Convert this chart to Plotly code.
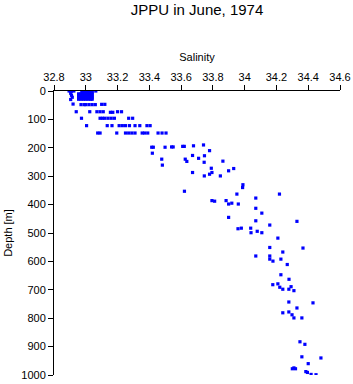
import plotly.graph_objects as go

salinity = [
    # dense surface cluster
    32.98, 33.00, 33.02, 33.04,
    32.975, 32.99, 33.005, 33.02, 33.035, 33.04,
    32.955, 32.97, 32.985, 33.0, 33.015, 33.03, 33.04,
    32.955, 32.97, 32.985, 33.0, 33.015, 33.03, 33.04,
    32.955, 32.97, 32.985, 33.0, 33.015, 33.03, 33.04,
    32.955, 32.97, 32.985, 33.0, 33.015, 33.03, 33.04,
    32.955, 32.97, 32.985, 33.0, 33.015, 33.03, 33.04,
    32.895, 32.91, 32.925, 32.905, 32.91, 32.915, 32.905, 33.063,
    32.92, 32.97, 32.99, 33.0, 33.02, 33.04, 33.06, 33.10, 33.12,
    32.94, 33.025, 33.07, 33.09, 33.11, 33.155, 33.17, 33.20, 33.225,
    32.973, 33.09, 33.105, 33.12, 33.14, 33.16, 33.18, 33.27, 33.295,
    33.005, 33.135, 33.165, 33.21, 33.23, 33.25, 33.275, 33.31, 33.34, 33.385, 33.405,
    33.075, 33.09, 33.195, 33.25, 33.27, 33.29, 33.31, 33.355, 33.37, 33.39, 33.455, 33.48, 33.505,
    # 200 - 400 m
    33.415, 33.425, 33.499, 33.54, 33.55, 33.61, 33.62, 33.678, 33.741, 33.779,
    33.419, 33.478, 33.482, 33.626, 33.636, 33.672, 33.71, 33.747, 33.745, 33.863,
    33.79, 33.794, 33.779, 33.899, 33.931, 33.847, 33.746, 33.672, 33.621,
    33.989, 33.987, 33.951, 34.219, 34.07, 33.794, 33.811, 33.883, 33.899, 33.919, 33.96,
    # 400 - 700 m
    34.07, 34.108, 33.899, 34.07, 34.329, 33.958, 33.979, 34.038, 34.04, 34.079, 34.108,
    34.158, 34.209, 34.158, 34.24, 34.367, 34.07, 34.158, 34.158, 34.178, 34.228, 34.268,
    34.228, 34.279, 34.177, 34.209, 34.221, 34.24, 34.278, 34.292, 34.31,
    # 700 - 1000 m
    34.278, 34.43, 34.329, 34.24, 34.278, 34.298, 34.31, 34.36,
    34.348, 34.379, 34.36, 34.48, 34.40, 34.30, 34.31, 34.32, 34.385, 34.395, 34.418, 34.449,
]
depth = [
    0, 0, 0, 0,
    5, 5, 5, 5, 5, 5,
    10, 10, 10, 10, 10, 10, 10,
    15, 15, 15, 15, 15, 15, 15,
    20, 20, 20, 20, 20, 20, 20,
    25, 25, 25, 25, 25, 25, 25,
    29, 29, 29, 29, 29, 29, 29,
    0, 1, 0, 8, 15, 22, 30, 0,
    46, 48, 48, 48, 48, 48, 48, 47, 47,
    73, 73, 73, 73, 73, 75, 75, 73, 73,
    96, 96, 96, 96, 96, 96, 96, 96, 96,
    122, 122, 122, 122, 122, 122, 122, 122, 122, 122, 122,
    148, 148, 148, 148, 148, 148, 148, 148, 148, 148, 148, 148, 148,
    198, 198, 198, 197, 197, 195, 195, 193, 190, 210,
    219, 240, 261, 240, 248, 227, 237, 228, 251, 247,
    272, 287, 293, 281, 273, 299, 299, 287, 353,
    330, 340, 363, 363, 377, 386, 388, 386, 398, 395, 398,
    413, 430, 445, 457, 459, 485, 483, 483, 499, 494, 499,
    472, 518, 551, 567, 553, 581, 581, 592, 599, 592, 611,
    647, 663, 682, 679, 691, 698, 698, 689, 703,
    743, 746, 764, 781, 778, 788, 799, 799,
    883, 892, 936, 940, 960, 978, 975, 978, 988, 991, 998, 999,
]

x_ticks = [32.8, 33.0, 33.2, 33.4, 33.6, 33.8, 34.0, 34.2, 34.4, 34.6]
x_labels = ["32.8", "33", "33.2", "33.4", "33.6", "33.8", "34", "34.2", "34.4", "34.6"]
y_ticks = [0, 100, 200, 300, 400, 500, 600, 700, 800, 900, 1000]

font_family = "Liberation Sans, Arial, sans-serif"

fig = go.Figure(
    go.Scatter(
        x=salinity,
        y=depth,
        mode="markers",
        marker=dict(symbol="square", size=3.2, color="#0000ff", line=dict(width=0)),
        hoverinfo="x+y",
    )
)

fig.update_layout(
    width=353,
    height=384,
    margin=dict(l=54, r=13, t=91, b=9),
    paper_bgcolor="white",
    plot_bgcolor="white",
    showlegend=False,
    font=dict(family=font_family, size=11, color="black"),
    title=dict(
        text="JPPU in June, 1974",
        x=0.5,
        xref="paper",
        xanchor="center",
        y=1 - 4 / 384,
        yref="container",
        yanchor="top",
        pad=dict(t=0, b=0),
        font=dict(family=font_family, size=15, color="black"),
    ),
)

fig.update_xaxes(
    side="top",
    range=[32.8, 34.6],
    tickvals=x_ticks,
    ticktext=x_labels,
    ticks="outside",
    ticklen=5,
    tickcolor="black",
    showline=True,
    linecolor="black",
    linewidth=1,
    showgrid=False,
    zeroline=False,
    automargin=False,
    title=dict(text="Salinity", standoff=6, font=dict(size=11)),
    tickfont=dict(size=11),
)

fig.update_yaxes(
    range=[1000, 0],
    tickvals=y_ticks,
    ticks="outside",
    ticklen=5,
    tickcolor="black",
    showline=True,
    linecolor="black",
    linewidth=1,
    showgrid=False,
    zeroline=False,
    automargin=False,
    title=dict(text="Depth [m]", standoff=6, font=dict(size=11)),
    tickfont=dict(size=11),
)

fig.write_html("out.html")
